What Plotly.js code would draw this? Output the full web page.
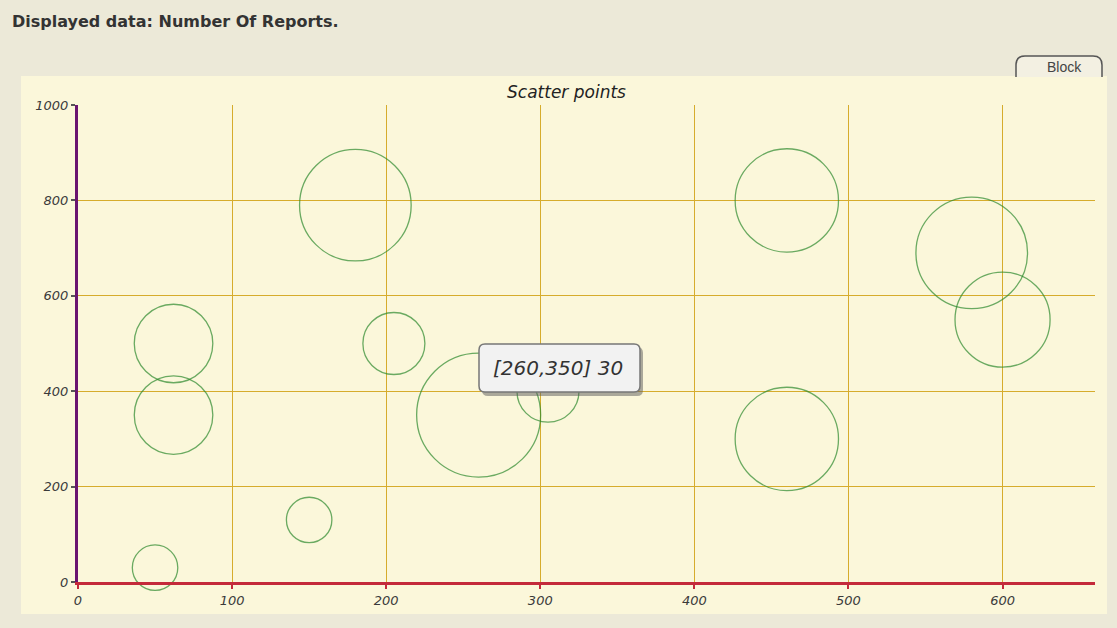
<!DOCTYPE html>
<html>
<head>
<meta charset="utf-8">
<script src="https://cdn.plot.ly/plotly-3.0.1.min.js"></script>
<style>
html,body{margin:0;padding:0;background:#ece9d8;}
#chart{width:1117px;height:628px;}
</style>
</head>
<body>
<div id="chart"></div>
<script>
// Data
const xValues = [50, 150, 62, 62, 180, 205, 260, 305, 460, 460, 580, 600];
const yValues = [30, 130, 500, 350, 790, 500, 350, 400, 800, 300, 690, 550];
const sizeValues = [11, 11, 19, 19, 27, 15, 30, 15, 25, 25, 27, 23];
const xTicks = [0, 100, 200, 300, 400, 500, 600];
const yTicks = [0, 200, 400, 600, 800, 1000];
const chartTitle = "Displayed data: Number Of Reports.";
const plotTitle = "Scatter points";
const tipText = "[260,350] 30";

// pixel -> paper helpers (plot area 78..1095 x, 105..582 y)
const L = 78, R = 1095, T = 105, B = 582;
const W = R - L, H = B - T;
const px = x => (x - L) / W;
const py = y => (B - y) / H;

function roundRect(x0, y0, x1, y1, r) {
  return [
    `M${px(x0 + r)},${py(y0)}`,
    `L${px(x1 - r)},${py(y0)}`,
    `Q${px(x1)},${py(y0)} ${px(x1)},${py(y0 + r)}`,
    `L${px(x1)},${py(y1 - r)}`,
    `Q${px(x1)},${py(y1)} ${px(x1 - r)},${py(y1)}`,
    `L${px(x0 + r)},${py(y1)}`,
    `Q${px(x0)},${py(y1)} ${px(x0)},${py(y1 - r)}`,
    `L${px(x0)},${py(y0 + r)}`,
    `Q${px(x0)},${py(y0)} ${px(x0 + r)},${py(y0)}`,
    'Z'
  ].join(' ');
}
function tabPath(x0, y0, x1, y1, r) {
  return [
    `M${px(x0)},${py(y1)}`,
    `L${px(x0)},${py(y0 + r)}`,
    `Q${px(x0)},${py(y0)} ${px(x0 + r)},${py(y0)}`,
    `L${px(x1 - r)},${py(y0)}`,
    `Q${px(x1)},${py(y0)} ${px(x1)},${py(y0 + r)}`,
    `L${px(x1)},${py(y1)}`
  ].join(' ');
}

const trace = {
  type: 'scatter',
  mode: 'markers',
  x: xValues,
  y: yValues,
  marker: {
    size: sizeValues,
    sizemode: 'diameter',
    sizeref: 30 / 124,
    color: 'rgba(0,0,0,0)',
    line: {color: '#2e8a2e', width: 1.3}
  },
  hovertemplate: '[%{x},%{y}] %{marker.size}<extra></extra>',
  cliponaxis: false
};

const tickFont = {family: 'DejaVu Sans, sans-serif', size: 13, color: '#3a3a3a', style: 'italic'};

const layout = {
  width: 1117,
  height: 628,
  margin: {l: L, r: 1117 - R, t: T, b: 628 - B},
  paper_bgcolor: '#ece9d8',
  plot_bgcolor: 'rgba(0,0,0,0)',
  showlegend: false,
  font: {family: 'DejaVu Sans, sans-serif', color: '#333'},
  xaxis: {
    range: [0, 660],
    tickvals: xTicks,
    ticktext: xTicks.map(String),
    showgrid: true,
    gridcolor: '#d6ac2c',
    gridwidth: 1.3,
    zeroline: false,
    showline: true,
    linecolor: '#c42a3a',
    linewidth: 3,
    ticks: 'outside',
    ticklen: 4,
    tickwidth: 2,
    tickcolor: '#c42a3a',
    tickfont: tickFont,
    fixedrange: true
  },
  yaxis: {
    range: [0, 1000],
    tickvals: yTicks,
    ticktext: yTicks.map(String),
    showgrid: true,
    gridcolor: '#d6ac2c',
    gridwidth: 1.3,
    zeroline: false,
    showline: true,
    linecolor: '#6a1470',
    linewidth: 3,
    ticks: 'outside',
    ticklen: 4,
    tickwidth: 2,
    tickcolor: '#555',
    tickfont: tickFont,
    fixedrange: true
  },
  shapes: [
    // inner panel
    {type: 'rect', xref: 'paper', yref: 'paper', layer: 'below',
     x0: px(21), x1: px(1107), y0: py(614), y1: py(76),
     fillcolor: '#fbf7da', line: {width: 0}},
    // tab "Block"
    {type: 'path', xref: 'paper', yref: 'paper', layer: 'above',
     path: tabPath(1016, 56, 1102, 77, 9),
     fillcolor: '#f3f0e2', line: {color: '#555', width: 1.5}},
    // tooltip shadow
    {type: 'path', xref: 'paper', yref: 'paper', layer: 'above',
     path: roundRect(482, 347, 643, 396, 6),
     fillcolor: 'rgba(90,90,90,0.5)', line: {width: 0}},
    // tooltip box
    {type: 'path', xref: 'paper', yref: 'paper', layer: 'above',
     path: roundRect(479, 344, 640, 392, 6),
     fillcolor: '#f2f2f2', line: {color: '#777', width: 1.5}}
  ],
  annotations: [
    {text: '<b>' + chartTitle + '</b>', xref: 'paper', yref: 'paper',
     x: px(10), y: py(21), xanchor: 'left', yanchor: 'middle', showarrow: false,
     font: {family: 'DejaVu Sans, sans-serif', size: 16, color: '#333'}},
    {text: plotTitle, xref: 'paper', yref: 'paper',
     x: px(566), y: py(92), xanchor: 'center', yanchor: 'middle', showarrow: false,
     font: {family: 'DejaVu Sans, sans-serif', size: 17, color: '#222', style: 'italic'}},
    {text: 'Block', xref: 'paper', yref: 'paper',
     x: px(1064), y: py(67), xanchor: 'center', yanchor: 'middle', showarrow: false,
     font: {family: 'Liberation Sans, Arial, sans-serif', size: 14, color: '#444'}},
    {text: tipText, xref: 'paper', yref: 'paper',
     x: px(558), y: py(368), xanchor: 'center', yanchor: 'middle', showarrow: false,
     font: {family: 'DejaVu Sans, sans-serif', size: 20, color: '#333', style: 'italic'}}
  ]
};

Plotly.newPlot('chart', [trace], layout, {displayModeBar: false});
</script>
</body>
</html>
